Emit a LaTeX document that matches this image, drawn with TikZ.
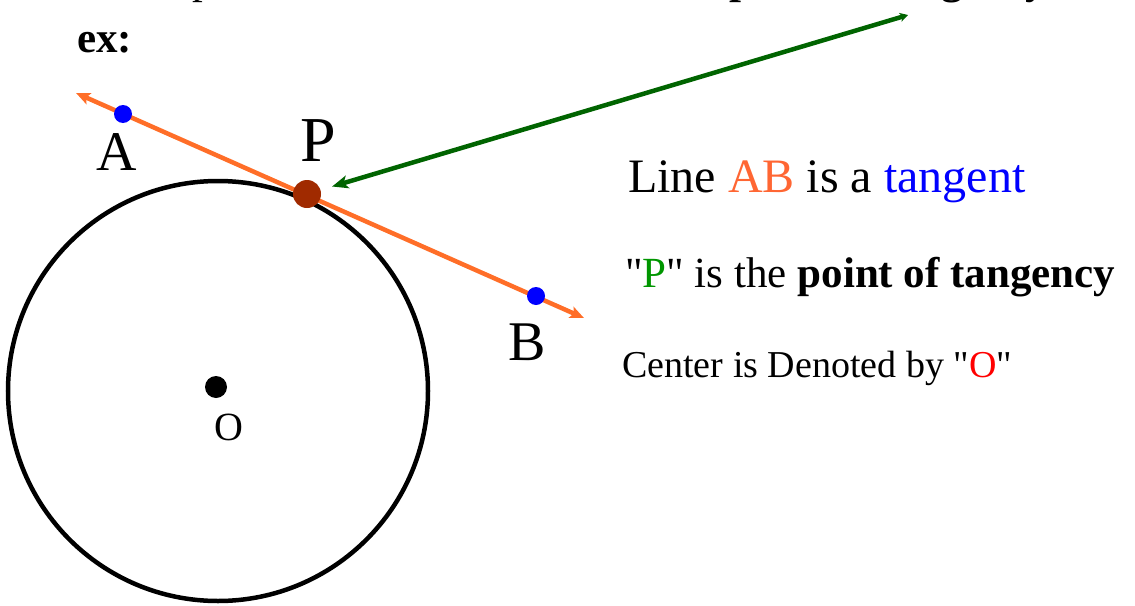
\documentclass[tikz,border=0pt]{standalone}
\usepackage{fontspec}
\setmainfont{Liberation Serif}[Ligatures=TeXOff]
\usetikzlibrary{arrows.meta}
\definecolor{orangeline}{RGB}{255,110,40}
\definecolor{ptbrown}{RGB}{160,42,0}
\definecolor{arrgreen}{RGB}{0,100,0}
\definecolor{lblgreen}{RGB}{0,150,0}
\definecolor{lblorange}{RGB}{255,102,51}
\newcommand\fsz[1]{\fontsize{#1}{#1}\selectfont}
\begin{document}
\begin{tikzpicture}[x=1pt,y=-1pt,
  dotpt/.style={circle,inner sep=0pt,minimum size=#1,draw=none},
  txt/.style={inner sep=0pt,anchor=base west},
  lbl/.style={inner sep=0pt,anchor=base}]
\useasboundingbox (0,0) rectangle (1135,605);
% cut-off top line
\node[txt,font=\fsz{43}] (topline) at (115,-6) {The point at which it touches is the \textbf{point of tangency}};
\node[txt,font=\fsz{43}\bfseries] (ex) at (77,52) {ex:};
% circle
\draw[line width=4.5pt] (218,391) circle[radius=210];
\node[dotpt=22pt,fill=black] (O) at (216,387) {};
\node[lbl,font=\fsz{40}] (Olbl) at (229,440) {O};
% tangent line
\coordinate (endA) at (76,93);
\coordinate (endB) at (584,318);
\draw[orangeline,line width=4.5pt,{Stealth[length=14pt,width=12pt,inset=3pt]}-{Stealth[length=14pt,width=12pt,inset=3pt]}] (endA) -- (endB);
\node[dotpt=18pt,fill=blue] (A) at (123,114) {};
\node[dotpt=18pt,fill=blue] (B) at (536,296) {};
\node[dotpt=28pt,fill=ptbrown] (P) at (307,194) {};
\node[lbl,font=\fsz{56}] (Albl) at (117,170) {A};
\node[lbl,font=\fsz{56}] (Blbl) at (527,360) {B};
\node[lbl,font=\fsz{64}] (Plbl) at (318,161) {P};
% green arrow
\coordinate (gstart) at (908,15);
\draw[arrgreen,line width=4.5pt,{Stealth[length=8pt,width=9pt,inset=2pt]}-{Stealth[length=16pt,width=13pt,inset=4pt]},shorten >=12pt] (gstart) -- (P);
% texts
\node[txt,font=\fsz{48}] (line1) at (628,192) {Line \textcolor{lblorange}{AB} is a \textcolor{blue}{tangent}};
\node[txt,font=\fsz{43}] (line2) at (625,287) {"\textcolor{lblgreen}{P}" is the \textbf{point of tangency}};
\node[txt,font=\fsz{38}] (line3) at (622,377) {Center is Denoted by "\textcolor{red}{O}"};
\end{tikzpicture}
\end{document}
